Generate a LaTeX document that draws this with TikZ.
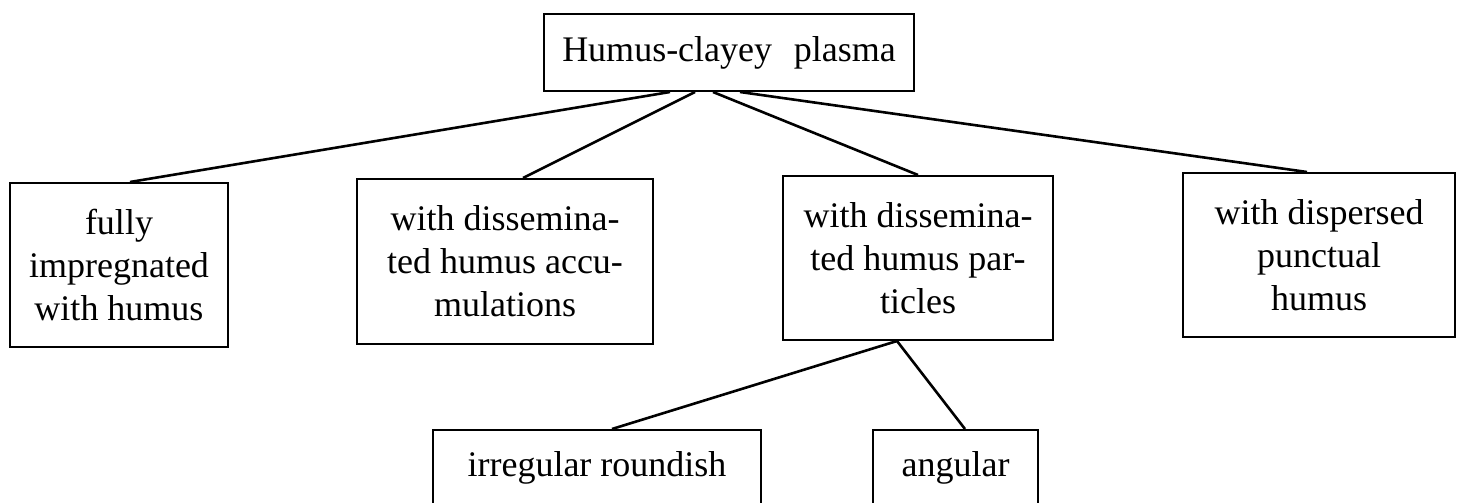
\documentclass[tikz,border=0pt]{standalone}
\usepackage{fontspec}
\setmainfont{Liberation Serif}
\begin{document}
\begin{tikzpicture}[x=0.5pt,y=-0.5pt,
  box/.style={draw, line width=1pt, rectangle, align=center, inner sep=0pt,
    font=\fontsize{18}{21.5}\selectfont},
  conn/.style={line width=1.3pt}]
\useasboundingbox[fill=white] (0,0) rectangle (1464,503);
\node[box, minimum width=185pt, minimum height=38.5pt] (top) at (729,52.5) {Humus-clayey\hspace{0.6em}plasma};
\node[box, minimum width=109pt, minimum height=82pt] (b1) at (119,265) {fully\\impregnated\\with humus};
\node[box, minimum width=148pt, minimum height=82.5pt] (b2) at (505,261.5) {with dissemina-\\ted humus accu-\\mulations};
\node[box, minimum width=135pt, minimum height=82pt] (b3) at (918,258) {with dissemina-\\ted humus par-\\ticles};
\node[box, minimum width=136pt, minimum height=82pt] (b4) at (1319,255) {with dispersed\\punctual\\humus};
\node[box, minimum width=164pt, minimum height=38pt] (b5) at (597,468) {irregular roundish};
\node[box, minimum width=82.5pt, minimum height=38pt] (b6) at (955.5,468) {angular};
\draw[conn] ([xshift=-29.5pt]top.south) -- ([xshift=5.5pt]b1.north);
\draw[conn] ([xshift=-17pt]top.south) -- ([xshift=9pt]b2.north);
\draw[conn] ([xshift=-8pt]top.south) -- (b3.north);
\draw[conn] ([xshift=5.5pt]top.south) -- ([xshift=-6pt]b4.north);
\draw[conn] ([xshift=-10.5pt]b3.south) -- ([xshift=7.5pt]b5.north);
\draw[conn] ([xshift=-10.5pt]b3.south) -- ([xshift=4.75pt]b6.north);
\end{tikzpicture}
\end{document}
